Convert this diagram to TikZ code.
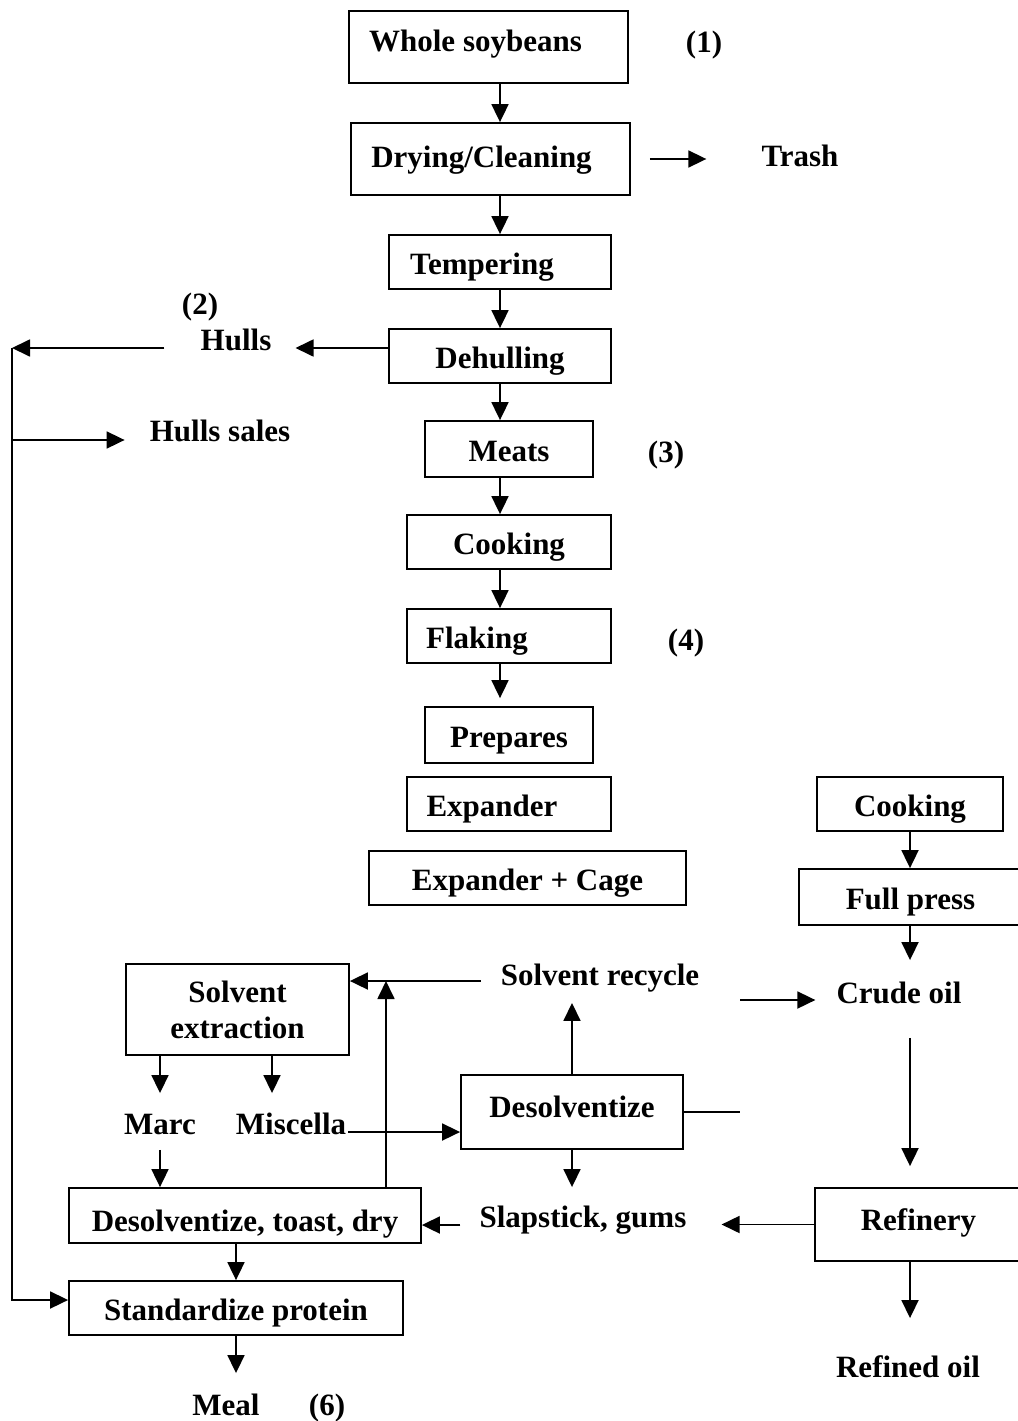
\documentclass[tikz,border=0pt]{standalone}
\usepackage{fontspec}
\setmainfont{Liberation Serif}
\usetikzlibrary{arrows.meta}
\begin{document}
\begin{tikzpicture}[x=1pt,y=-1pt,
  font=\fontsize{31}{36}\selectfont\bfseries,
  txt/.style={inner sep=2pt,text height=24pt,text depth=3.5pt},
  box/.style={draw,line width=1.8pt,inner sep=2pt},
  tbox/.style={box,text height=27pt,text depth=2.5pt},
  arr/.style={line width=1.8pt,-{Triangle[length=18pt,width=17pt]}},
  ln/.style={line width=1.8pt}]
\useasboundingbox (0,0) rectangle (1017,1421);
% main column boxes
\node[tbox,text height=12pt,text depth=3.5pt,minimum width=279pt,minimum height=72pt] (ws) at (488.5,47) {Whole soybeans\hspace*{26pt}};
\node[tbox,text height=20pt,text depth=3.5pt,minimum width=279pt,minimum height=72pt] (dc) at (490.5,159) {Drying/Cleaning\hspace*{18pt}};
\node[tbox,minimum width=222pt,minimum height=54pt] (temp) at (500,262) {Tempering\hspace*{36pt}};
\node[tbox,minimum width=222pt,minimum height=54pt] (dehull) at (500,356) {Dehulling};
\node[tbox,minimum width=168pt,minimum height=56pt] (meats) at (509,449) {Meats};
\node[tbox,minimum width=204pt,minimum height=54pt] (cook) at (509,542) {Cooking};
\node[tbox,minimum width=204pt,minimum height=54pt] (flak) at (509,636) {Flaking\hspace*{64pt}};
\node[tbox,minimum width=168pt,minimum height=56pt] (prep) at (509,735) {Prepares};
\node[tbox,minimum width=204pt,minimum height=54pt] (exp) at (509,804) {Expander\hspace*{34pt}};
\node[tbox,minimum width=317pt,minimum height=54pt] (expc) at (527.5,878) {Expander + Cage};
% right column
\node[tbox,minimum width=186pt,minimum height=54pt] (rcook) at (910,804) {Cooking};
\node[tbox,minimum width=223pt,minimum height=56pt] (fpress) at (910.5,897) {Full press};
\node[tbox,text height=15pt,text depth=3.5pt,minimum width=207pt,minimum height=73pt] (refin) at (918.5,1224.5) {Refinery};
% lower boxes
\node[box,align=center,minimum width=223pt,minimum height=91pt] (solvext) at (237.5,1009.5) {Solvent\\extraction};
\node[tbox,text height=14pt,text depth=3.5pt,minimum width=222pt,minimum height=74pt] (desol) at (572,1112) {Desolventize};
\node[tbox,text height=34pt,text depth=2.5pt,minimum width=352pt,minimum height=55pt] (dtd) at (245,1215.5) {Desolventize, toast, dry};
\node[tbox,minimum width=334pt,minimum height=54pt] (stdp) at (236,1308) {Standardize protein};
% free labels
\node[txt] (n1) at (704,42) {(1)};
\node[txt] (trash) at (800,156) {Trash};
\node[txt] (n2) at (200,304) {(2)};
\node[txt] (hulls) at (236,340) {Hulls};
\node[txt] (hsales) at (220,431) {Hulls sales};
\node[txt] (n3) at (666,452) {(3)};
\node[txt] (n4) at (686,640) {(4)};
\node[txt] (solrec) at (600,975) {Solvent recycle};
\node[txt] (crude) at (899,993) {Crude oil};
\node[txt] (marc) at (160,1124) {Marc};
\node[txt] (misc) at (291,1124) {Miscella};
\node[txt] (slap) at (583,1217) {Slapstick, gums};
\node[txt] (refd) at (908,1367) {Refined oil};
\node[txt] (meal) at (226,1405) {Meal};
\node[txt] (n6) at (327,1405) {(6)};
% helper coordinates
\coordinate (hy) at (0,348);
\coordinate (hl) at (12,348);
\coordinate (hs) at (12,440);
\coordinate (sy) at (0,1300);
\coordinate (j1) at (740,1000);
\coordinate (j2) at (740,1112);
\coordinate (sr) at (0,981);
\coordinate (srj) at (386,981);
\coordinate (mx) at (272,0);
\coordinate (my) at (0,1132);
\coordinate (sy2) at (0,1225);
% main column arrows
\draw[arr] (ws.south -| dehull) -- (dc.north -| dehull);
\draw[arr] (dc.south -| dehull) -- (temp.north);
\draw[arr] (temp.south) -- (dehull.north);
\draw[arr] (dehull.south) -- (dehull.south |- meats.north);
\draw[arr] (meats.south -| dehull) -- (cook.north -| dehull);
\draw[arr] (cook.south -| dehull) -- (flak.north -| dehull);
\draw[arr,shorten >=8pt] (flak.south -| dehull) -- (prep.north -| dehull);
\draw[arr,shorten <=19pt,shorten >=53pt] (dc.east) -- (dc.east -| trash.west);
% hulls
\draw[arr,shorten >=22pt] (dehull.west |- hy) -- (hulls.east |- hy);
\draw[arr,shorten <=34pt] (hulls.west |- hy) -- (hl);
\draw[arr] (hl) |- (stdp.west |- sy);
\draw[arr,shorten >=23pt] (hs) -- (hs -| hsales.west);
% right column
\draw[arr] (rcook.south) -- (rcook.south |- fpress.north);
\draw[arr,shorten >=17pt] (fpress.south -| rcook) -- (crude.north -| rcook);
\draw[arr,shorten >=19pt] (j1) -- (j1 -| crude.west);
\draw[arr,shorten <=29pt,shorten >=21pt] (crude.south -| rcook) -- (refin.north -| rcook);
\draw[arr,shorten >=33pt] (refin.south -| rcook) -- (refd.north -| rcook);
\draw[arr,shorten >=33pt] (refin.west) -- (refin.west -| slap.east);
% middle
\draw[arr,shorten <=18pt] (solrec.west |- sr) -- (solvext.east |- sr);
\draw[arr,shorten >=12pt] (desol.north) -- (desol.north |- solrec.south);
\draw[arr,shorten >=14pt] (desol.south) -- (desol.south |- slap.north);
\draw[ln] (desol.east) -- (j2);
\draw[arr] (dtd.north -| srj) -- (srj);
\draw[arr,shorten >=15pt] (solvext.south -| marc) -- (marc.north);
\draw[arr,shorten >=15pt] (solvext.south -| mx) -- (misc.north -| mx);
\draw[arr] (misc.east |- my) -- (desol.west |- my);
\draw[arr,shorten <=10pt] (marc.south) -- (marc.south |- dtd.north);
\draw[arr,shorten <=17pt] (slap.west |- sy2) -- (dtd.east |- sy2);
\draw[arr] (dtd.south -| stdp) -- (stdp.north);
\draw[arr,shorten >=16pt] (stdp.south) -- (stdp.south |- meal.north);
\end{tikzpicture}
\end{document}
